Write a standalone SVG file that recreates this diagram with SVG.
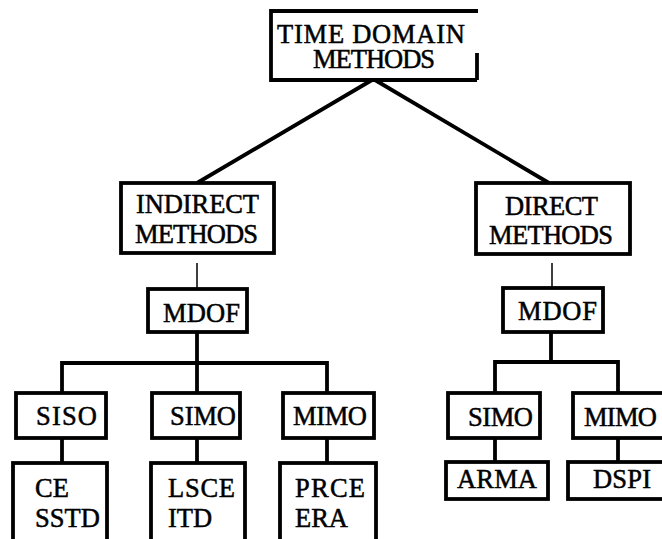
<svg xmlns="http://www.w3.org/2000/svg" width="662" height="539" viewBox="0 0 662 539">
<style>
.b{fill:#fff;stroke:#000;stroke-width:3.8}
.c{fill:none;stroke:#000;stroke-width:3.8}
.t{fill:none;stroke:#000;stroke-width:1.5}
text{font-family:"Liberation Serif","Times New Roman",serif;font-size:26.5px;fill:#000;stroke:#000;stroke-width:0.5}
</style>
<rect width="662" height="539" fill="#fff"/>
<g id="connectors">
<path class="c" d="M372,80 L197,183 M375,80 L549,183"/>
<path class="t" d="M197,263 V289 M552,263 V288"/>
<path class="c" d="M197,332 V393 M62,393 V363 H327 V393"/>
<path class="c" d="M62,438 V463 M197,438 V463 M327,438 V463"/>
<path class="c" d="M551,332 V362 M495,393 V362 H618 V393"/>
<path class="c" d="M495,438 V462 M618,438 V462"/>
</g>
<g id="time-domain">
<path class="c" d="M478,11 H271 V80 H477 M477,53 V80"/>
<text x="277" y="43" textLength="188">TIME DOMAIN</text>
<text x="313" y="68" textLength="122">METHODS</text>
</g>
<g id="indirect">
<rect class="b" x="121" y="183" width="153" height="70"/>
<text x="136" y="213" textLength="123">INDIRECT</text>
<text x="135" y="243" textLength="123">METHODS</text>
</g>
<g id="direct">
<rect class="b" x="476" y="183" width="154" height="71"/>
<text x="505" y="215" textLength="93">DIRECT</text>
<text x="489" y="244" textLength="124">METHODS</text>
</g>
<g id="mdof-indirect">
<rect class="b" x="148" y="289" width="99" height="43"/>
<text x="163" y="322" textLength="77">MDOF</text>
</g>
<g id="mdof-direct">
<rect class="b" x="503" y="288" width="100" height="44"/>
<text x="518" y="320" textLength="79">MDOF</text>
</g>
<g id="siso">
<rect class="b" x="16" y="393" width="90" height="45"/>
<text x="36" y="425" textLength="61">SISO</text>
</g>
<g id="simo-indirect">
<rect class="b" x="152" y="393" width="88" height="45"/>
<text x="170" y="425" textLength="66">SIMO</text>
</g>
<g id="mimo-indirect">
<rect class="b" x="283" y="393" width="91" height="45"/>
<text x="293" y="425" textLength="74">MIMO</text>
</g>
<g id="simo-direct">
<rect class="b" x="448" y="393" width="92" height="45"/>
<text x="468" y="426" textLength="65">SIMO</text>
</g>
<g id="mimo-direct">
<rect class="b" x="573" y="393" width="100" height="45"/>
<text x="584" y="426" textLength="73">MIMO</text>
</g>
<g id="ce-sstd">
<rect class="b" x="13" y="463" width="94" height="90"/>
<text x="35" y="497">CE</text>
<text x="35" y="527" textLength="65">SSTD</text>
</g>
<g id="lsce-itd">
<rect class="b" x="151" y="463" width="94" height="90"/>
<text x="168" y="497" textLength="67">LSCE</text>
<text x="168" y="527">ITD</text>
</g>
<g id="prce-era">
<rect class="b" x="280" y="463" width="96" height="90"/>
<text x="295" y="497" textLength="70">PRCE</text>
<text x="295" y="527">ERA</text>
</g>
<g id="arma">
<rect class="b" x="446" y="462" width="102" height="37"/>
<text x="457" y="488" textLength="80">ARMA</text>
</g>
<g id="dspi">
<rect class="b" x="568" y="462" width="110" height="37"/>
<text x="593" y="488" textLength="58">DSPI</text>
</g>
</svg>
